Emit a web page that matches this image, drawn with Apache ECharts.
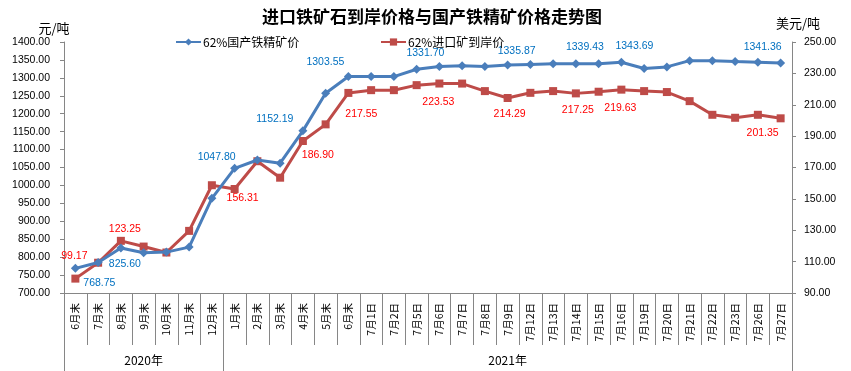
<!DOCTYPE html>
<html>
<head>
<meta charset="utf-8">
<script src="https://cdn.jsdelivr.net/npm/echarts@6/dist/echarts.min.js"></script>
<style>html,body{margin:0;padding:0;background:#fff}#c{width:851px;height:371px}</style>
</head>
<body>
<div id="c"></div>
<script>
const categories = ['6月末','7月末','8月末','9月末','10月末','11月末','12月末','1月末','2月末','3月末','4月末','5月末','6月末','7月1日','7月2日','7月5日','7月6日','7月7日','7月8日','7月9日','7月12日','7月13日','7月14日','7月15日','7月16日','7月19日','7月20日','7月21日','7月22日','7月23日','7月26日','7月27日'];
const years = ['2020年','2021年'];
const yearCounts = [7, 25];
const domesticName = '62%国产铁精矿价';
const importName = '62%进口矿到岸价';
const domestic = [768.75,785,825.60,812,814,828,964,1047.80,1071,1062,1152.19,1257,1303.55,1303.5,1303.5,1324,1331.70,1334,1332,1335.87,1337.5,1339,1339.43,1339.5,1343.69,1326,1330.5,1348,1348,1345.7,1343.7,1341.36];
const imported = [99.17,109.3,123.25,119.6,115.8,129.6,158.7,156.31,174,163.5,186.90,197.5,217.55,219.3,219.3,222.5,223.53,223.5,218.7,214.29,217.6,218.7,217.25,218.3,219.63,218.7,218.1,212.3,203.6,201.7,203.6,201.35];
const leftTicks = [700,750,800,850,900,950,1000,1050,1100,1150,1200,1250,1300,1350,1400];
const rightTicks = [90,110,130,150,170,190,210,230,250];

// label placement (style only): index -> [dx, dy]
const domesticLabelPos = {0:[24,15],2:[4,16],7:[-18,-11],10:[-28,-12],12:[-23,-14],16:[-14,-13],19:[9,-14],22:[9,-17],24:[13,-16],31:[-18,-16]};
const importLabelPos = {0:[-1,-23],2:[4,-12],7:[8,9],10:[15,14],12:[13,21],16:[-1,19],19:[2,16],22:[2,17],24:[-1,18],31:[-18,15]};

function withLabels(arr, pos, color){
  return arr.map((v,i)=> pos[i] ? {value:v, label:{show:true, position:'inside', offset:pos[i], color:color}} : {value:v});
}
// group boundaries & centres for year axis
const bounds=[0]; yearCounts.forEach(c=>bounds.push(bounds[bounds.length-1]+c));
const centres = years.map((y,i)=>(bounds[i]+bounds[i+1])/2);

const numFont = 'Liberation Sans';
const cjkFont = '"Noto Sans CJK SC", sans-serif';
const axisGray = '#868686';

const chart = echarts.init(document.getElementById('c'), null, {renderer:'canvas'});
chart.setOption({
  animation:false,
  backgroundColor:'#fff',
  title:{text:'进口铁矿石到岸价格与国产铁精矿价格走势图', left:262, top:8, padding:0,
    textStyle:{fontSize:17, fontWeight:'bold', color:'#000', fontFamily:cjkFont}},
  legend:[
    {data:[domesticName], left:175, top:36, padding:0, itemWidth:25, itemHeight:9,
      textStyle:{fontSize:12, color:'#000', fontFamily:cjkFont, padding:[0,0,0,-3]}},
    {data:[importName], left:380, top:36, padding:0, itemWidth:25, itemHeight:9,
      textStyle:{fontSize:12, color:'#000', fontFamily:cjkFont, padding:[0,0,0,-3]}}
  ],
  grid:{left:64, right:59, top:42, bottom:78, containLabel:false},
  xAxis:[
    {type:'category', data:categories, boundaryGap:true,
      axisLine:{lineStyle:{color:axisGray}},
      axisTick:{show:true, interval:0, length:52, lineStyle:{color:axisGray}},
      axisLabel:{interval:0, rotate:90, margin:10, fontSize:10.5, color:'#000', fontFamily:cjkFont},
      splitLine:{show:false}},
    {type:'value', min:0, max:categories.length, position:'bottom',
      axisLine:{show:false},
      axisTick:{show:true, customValues:bounds, length:78, lineStyle:{color:axisGray}},
      axisLabel:{show:true, customValues:centres, margin:61, fontSize:12, color:'#000', fontFamily:cjkFont,
        formatter:(v)=>{const i=centres.indexOf(v); return i>=0?years[i]:'';}},
      splitLine:{show:false}}
  ],
  yAxis:[
    {type:'value', min:leftTicks[0], max:leftTicks[leftTicks.length-1], interval:leftTicks[1]-leftTicks[0],
      name:'元/吨', nameLocation:'end', nameGap:7,
      nameTextStyle:{fontSize:13, color:'#000', fontFamily:cjkFont, padding:[0,20,0,0]},
      axisLine:{show:true, lineStyle:{color:axisGray}},
      axisTick:{show:true, length:4, lineStyle:{color:axisGray}},
      axisLabel:{margin:14, fontSize:10.5, color:'#000', fontFamily:numFont, formatter:v=>v.toFixed(2)},
      splitLine:{show:false}},
    {type:'value', min:rightTicks[0], max:rightTicks[rightTicks.length-1], position:'right',
      name:'美元/吨', nameLocation:'end', nameGap:12,
      nameTextStyle:{fontSize:13, color:'#000', fontFamily:cjkFont, padding:[0,0,0,12]},
      axisLine:{show:true, lineStyle:{color:axisGray}},
      axisTick:{show:true, length:4, customValues:rightTicks, lineStyle:{color:axisGray}},
      axisLabel:{margin:12, fontSize:10.5, color:'#000', fontFamily:numFont, customValues:rightTicks, formatter:v=>v.toFixed(2)},
      splitLine:{show:false}}
  ],
  series:[
    {name:domesticName, type:'line', xAxisIndex:0, yAxisIndex:0,
      data:withLabels(domestic, domesticLabelPos, '#0070C0'),
      symbol:'diamond', symbolSize:9, color:'#4A7EBB',
      lineStyle:{width:3, color:'#4A7EBB'}, itemStyle:{color:'#4A7EBB'},
      label:{show:false, fontSize:10.5, fontFamily:numFont, color:'#0070C0', formatter:p=>Number(p.value).toFixed(2)},
      z:3},
    {name:importName, type:'line', xAxisIndex:0, yAxisIndex:1,
      data:withLabels(imported, importLabelPos, '#FF0000'),
      symbol:'rect', symbolSize:8, color:'#BE4B48',
      lineStyle:{width:3, color:'#BE4B48'}, itemStyle:{color:'#BE4B48'},
      label:{show:false, fontSize:10.5, fontFamily:numFont, color:'#FF0000', formatter:p=>Number(p.value).toFixed(2)},
      z:2}
  ]
});
</script>
</body>
</html>
